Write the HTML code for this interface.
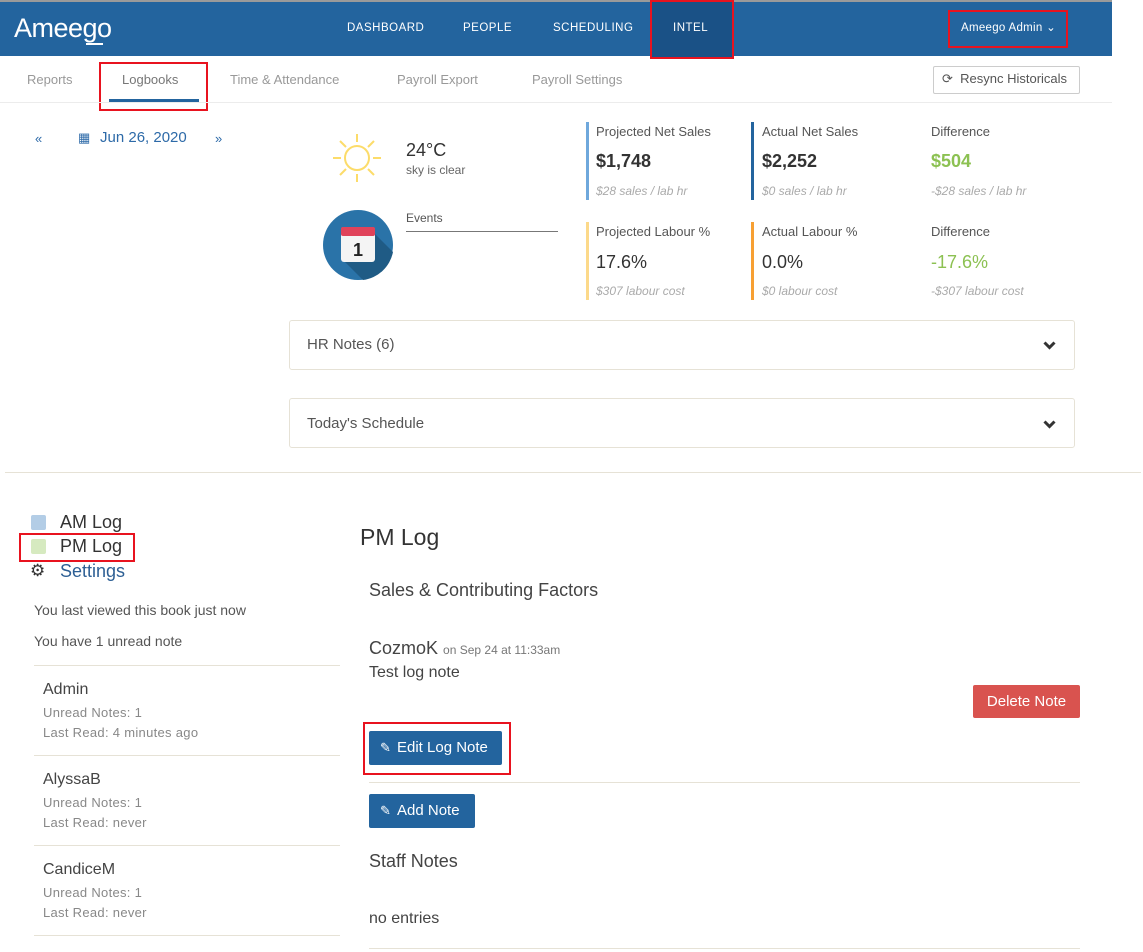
<!DOCTYPE html>
<html><head><meta charset="utf-8"><style>
*{margin:0;padding:0;box-sizing:border-box}
body{width:1143px;height:952px;background:#fff;position:relative;overflow:hidden;font-family:"Liberation Sans",sans-serif;color:#444}
.a{position:absolute;white-space:nowrap;line-height:1}
.nav{font-size:11.5px;color:#fff;letter-spacing:.5px;top:23px}
.sub{font-size:13px;color:#999;top:73px}
.lab{font-size:13px;color:#555}
.val{font-size:18px;font-weight:bold;color:#333}
.sm{font-size:12px;color:#aaa;font-style:italic}
.bar{position:absolute;width:3px}
.box{position:absolute;border:1px solid #e6e2d6;border-radius:3px;background:#fff}
.hr{position:absolute;height:1px;background:#e6e2d6}
.nm{font-size:16px;color:#444}
.gr{font-size:13px;color:#888;letter-spacing:.3px}
.btn{position:absolute;background:#23649e;color:#fff;border-radius:2px;font-size:15px;line-height:34px;padding-left:28px}
.red{position:absolute;border:2px solid #e8131f}
</style></head><body>
<div style="position:absolute;left:0;top:0;width:1112px;height:2px;background:#9a9a9a"></div>
<div style="position:absolute;left:0;top:2px;width:1112px;height:54px;background:#23649e"></div>
<div style="position:absolute;left:651px;top:0;width:82px;height:58px;background:#1a5186"></div>
<div class="red" style="left:650px;top:0;width:84px;height:59px"></div>
<div class="a" style="left:14px;top:15px;font-size:27px;color:#fff;letter-spacing:-0.5px">Ameego</div>
<div style="position:absolute;left:86px;top:43px;width:17px;height:2px;background:#fff"></div>
<div class="a nav" style="left:347px">DASHBOARD</div>
<div class="a nav" style="left:463px">PEOPLE</div>
<div class="a nav" style="left:553px">SCHEDULING</div>
<div class="a nav" style="left:673px">INTEL</div>
<div class="a nav" style="left:961px;letter-spacing:.3px">Ameego Admin ⌄</div>
<div class="red" style="left:948px;top:10px;width:120px;height:38px"></div>

<div class="a sub" style="left:27px">Reports</div>
<div class="a sub" style="left:122px;color:#777">Logbooks</div>
<div style="position:absolute;left:109px;top:99px;width:90px;height:3px;background:#23649e"></div>
<div class="red" style="left:99px;top:62px;width:109px;height:49px"></div>
<div class="a sub" style="left:230px">Time &amp; Attendance</div>
<div class="a sub" style="left:397px">Payroll Export</div>
<div class="a sub" style="left:532px">Payroll Settings</div>
<div style="position:absolute;left:933px;top:66px;width:147px;height:28px;border:1px solid #ccc;border-radius:2px"></div>
<div class="a" style="left:942px;top:72px;font-size:13px;color:#555">⟳ &nbsp;Resync Historicals</div>
<div style="position:absolute;left:0;top:102px;width:1112px;height:1px;background:#ececec"></div>

<div class="a" style="left:35px;top:132px;font-size:13px;color:#2d6aa8">«</div>
<div class="a" style="left:78px;top:131px;font-size:13px;color:#2d6aa8">▦</div>
<div class="a" style="left:100px;top:130px;font-size:15px;color:#2d6aa8">Jun 26, 2020</div>
<div class="a" style="left:215px;top:132px;font-size:13px;color:#2d6aa8">»</div>

<svg style="position:absolute;left:328px;top:130px" width="58" height="56" viewBox="0 0 58 56"><g stroke="#fcdc6a" stroke-width="2" fill="none"><circle cx="29" cy="28" r="12"/><line x1="29" y1="4" x2="29" y2="12"/><line x1="29" y1="44" x2="29" y2="52"/><line x1="5" y1="28" x2="13" y2="28"/><line x1="45" y1="28" x2="53" y2="28"/><line x1="12" y1="11" x2="18" y2="17"/><line x1="40" y1="39" x2="46" y2="45"/><line x1="46" y1="11" x2="40" y2="17"/><line x1="18" y1="39" x2="12" y2="45"/></g></svg>
<div class="a" style="left:406px;top:141px;font-size:18px;color:#333">24°C</div>
<div class="a" style="left:406px;top:164px;font-size:12px;color:#666">sky is clear</div>
<svg style="position:absolute;left:323px;top:210px" width="70" height="70"><circle cx="35" cy="35" r="35" fill="#2a73a8"/><path d="M52 24 L70 42 A35 35 0 0 1 40 70 L20 50Z" fill="#1f5b85"/><rect x="18" y="17" width="34" height="35" rx="3" fill="#f4f4f4"/><rect x="18" y="17" width="34" height="9" rx="2" fill="#e0435a"/><text x="35" y="46" font-size="18" font-weight="bold" text-anchor="middle" fill="#222" font-family="Liberation Sans">1</text></svg>
<div class="a" style="left:406px;top:212px;font-size:12px;color:#555">Events</div>
<div style="position:absolute;left:406px;top:231px;width:152px;height:1px;background:#777"></div>

<div class="bar" style="left:586px;top:122px;height:78px;background:#6fa8dc"></div>
<div class="bar" style="left:751px;top:122px;height:78px;background:#23649e"></div>
<div class="a lab" style="left:596px;top:125px">Projected Net Sales</div>
<div class="a val" style="left:596px;top:152px">$1,748</div>
<div class="a sm" style="left:596px;top:185px">$28 sales / lab hr</div>
<div class="a lab" style="left:762px;top:125px">Actual Net Sales</div>
<div class="a val" style="left:762px;top:152px">$2,252</div>
<div class="a sm" style="left:762px;top:185px">$0 sales / lab hr</div>
<div class="a lab" style="left:931px;top:125px">Difference</div>
<div class="a val" style="left:931px;top:152px;color:#8cc152">$504</div>
<div class="a sm" style="left:931px;top:185px">-$28 sales / lab hr</div>
<div class="bar" style="left:586px;top:222px;height:78px;background:#fcd98a"></div>
<div class="bar" style="left:751px;top:222px;height:78px;background:#f7a033"></div>
<div class="a lab" style="left:596px;top:225px">Projected Labour %</div>
<div class="a val" style="left:596px;top:253px;font-weight:normal">17.6%</div>
<div class="a sm" style="left:596px;top:285px">$307 labour cost</div>
<div class="a lab" style="left:762px;top:225px">Actual Labour %</div>
<div class="a val" style="left:762px;top:253px;font-weight:normal">0.0%</div>
<div class="a sm" style="left:762px;top:285px">$0 labour cost</div>
<div class="a lab" style="left:931px;top:225px">Difference</div>
<div class="a val" style="left:931px;top:253px;color:#8cc152;font-weight:normal">-17.6%</div>
<div class="a sm" style="left:931px;top:285px">-$307 labour cost</div>

<div class="box" style="left:289px;top:320px;width:786px;height:50px"></div>
<div class="a" style="left:307px;top:337px;font-size:15px;color:#555">HR Notes (6)</div>
<svg style="position:absolute;left:1043px;top:341px" width="13" height="9"><path d="M1.5 1.5 L6.5 6.5 L11.5 1.5" stroke="#333" stroke-width="3" fill="none"/></svg>
<div class="box" style="left:289px;top:398px;width:786px;height:50px"></div>
<div class="a" style="left:307px;top:416px;font-size:15px;color:#555">Today's Schedule</div>
<svg style="position:absolute;left:1043px;top:420px" width="13" height="9"><path d="M1.5 1.5 L6.5 6.5 L11.5 1.5" stroke="#333" stroke-width="3" fill="none"/></svg>
<div class="hr" style="left:5px;top:472px;width:1136px"></div>

<div style="position:absolute;left:31px;top:515px;width:15px;height:15px;background:#b3cde6;border-radius:2px"></div>
<div class="a" style="left:60px;top:513px;font-size:18px;color:#333">AM Log</div>
<div style="position:absolute;left:31px;top:539px;width:15px;height:15px;background:#d6eac0;border-radius:2px"></div>
<div class="a" style="left:60px;top:537px;font-size:18px;color:#333">PM Log</div>
<div class="red" style="left:19px;top:533px;width:116px;height:29px"></div>
<div class="a" style="left:30px;top:562px;font-size:17px;color:#333">⚙</div>
<div class="a" style="left:60px;top:562px;font-size:18px;color:#2d5f94">Settings</div>
<div class="a" style="left:34px;top:603px;font-size:14px;color:#555">You last viewed this book just now</div>
<div class="a" style="left:34px;top:634px;font-size:14px;color:#555">You have 1 unread note</div>
<div class="hr" style="left:34px;top:665px;width:306px"></div>
<div class="a nm" style="left:43px;top:682px">Admin</div>
<div class="a gr" style="left:43px;top:706px">Unread Notes: 1</div>
<div class="a gr" style="left:43px;top:726px">Last Read: 4 minutes ago</div>
<div class="hr" style="left:34px;top:755px;width:306px"></div>
<div class="a nm" style="left:43px;top:772px">AlyssaB</div>
<div class="a gr" style="left:43px;top:796px">Unread Notes: 1</div>
<div class="a gr" style="left:43px;top:816px">Last Read: never</div>
<div class="hr" style="left:34px;top:845px;width:306px"></div>
<div class="a nm" style="left:43px;top:862px">CandiceM</div>
<div class="a gr" style="left:43px;top:886px">Unread Notes: 1</div>
<div class="a gr" style="left:43px;top:906px">Last Read: never</div>
<div class="hr" style="left:34px;top:935px;width:306px"></div>

<div class="a" style="left:360px;top:526px;font-size:23px;color:#333">PM Log</div>
<div class="a" style="left:369px;top:581px;font-size:18px;color:#444">Sales &amp; Contributing Factors</div>
<div class="a" style="left:369px;top:639px;font-size:18px;color:#444">CozmoK <span style="font-size:12px;color:#777">on Sep 24 at 11:33am</span></div>
<div class="a" style="left:369px;top:665px;font-size:16px;color:#444">Test log note</div>
<div style="position:absolute;left:973px;top:685px;width:107px;height:33px;background:#d9534f;border-radius:2px;color:#fff;font-size:15px;line-height:33px;text-align:center">Delete Note</div>
<div class="btn" style="left:369px;top:731px;width:133px">Edit Log Note</div>
<div class="a" style="left:380px;top:741px;font-size:13px;color:#fff">✎</div>
<div class="red" style="left:363px;top:722px;width:148px;height:53px"></div>
<div class="hr" style="left:369px;top:782px;width:711px"></div>
<div class="btn" style="left:369px;top:794px;width:106px">Add Note</div>
<div class="a" style="left:380px;top:804px;font-size:13px;color:#fff">✎</div>
<div class="a" style="left:369px;top:852px;font-size:18px;color:#444">Staff Notes</div>
<div class="a" style="left:369px;top:911px;font-size:16px;color:#444">no entries</div>
<div class="hr" style="left:369px;top:948px;width:711px"></div>
</body></html>
